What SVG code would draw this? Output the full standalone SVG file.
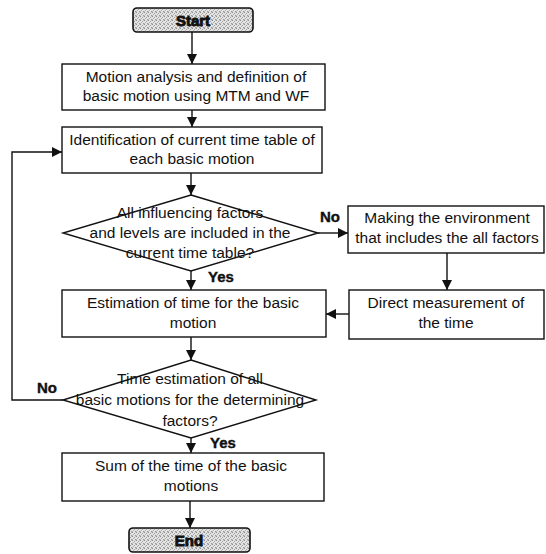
<svg xmlns="http://www.w3.org/2000/svg" width="546" height="554" viewBox="0 0 546 554">
  <defs>
    <!-- halftone-like fill for the terminal boxes -->
    <pattern id="dots" width="4" height="4" patternUnits="userSpaceOnUse">
      <rect width="4" height="4" fill="#e4e4e4"/>
      <rect x="0" y="0" width="1" height="1" fill="#8c8c8c"/>
      <rect x="2" y="1" width="1" height="1" fill="#a0a0a0"/>
      <rect x="1" y="2" width="1" height="1" fill="#b0b0b0"/>
      <rect x="3" y="3" width="1" height="1" fill="#9a9a9a"/>
      <rect x="3" y="0" width="1" height="1" fill="#c4c4c4"/>
      <rect x="0" y="3" width="1" height="1" fill="#bcbcbc"/>
    </pattern>
    <marker id="arrow" viewBox="0 0 10 10" refX="10" refY="5" markerWidth="10" markerHeight="10" markerUnits="userSpaceOnUse" orient="auto">
      <path d="M0,0 L10,5 L0,10 z" fill="#111"/>
    </marker>
  </defs>
  <style>
    .box { fill: #fff; stroke: #111; stroke-width: 1.4; }
    .term { fill: url(#dots); stroke: #111; stroke-width: 1.6; }
    .txt { font-family: "Liberation Sans", Arial, sans-serif; font-size: 15.5px; fill: #111; text-anchor: middle; }
    .bold { font-family: "Liberation Sans", Arial, sans-serif; font-size: 15px; font-weight: bold; fill: #111; stroke: #111; stroke-width: 0.4; }
    .termtxt { font-family: "Liberation Sans", Arial, sans-serif; font-size: 15px; font-weight: bold; fill: #111; text-anchor: middle; stroke: #111; stroke-width: 0.9; }
    .conn { fill: none; stroke: #111; stroke-width: 1.4; marker-end: url(#arrow); }
  </style>

  <rect width="546" height="554" fill="#fff"/>

  <g id="connectors">
    <line class="conn" x1="192" y1="32" x2="192" y2="64"/>
    <line class="conn" x1="192" y1="110" x2="192" y2="127"/>
    <line class="conn" x1="191" y1="173" x2="191" y2="195"/>
    <line class="conn" x1="318" y1="233" x2="348" y2="233"/>
    <line class="conn" x1="191" y1="271" x2="191" y2="290"/>
    <line class="conn" x1="447" y1="253" x2="447" y2="290"/>
    <line class="conn" x1="349" y1="314" x2="326" y2="314"/>
    <line class="conn" x1="191" y1="337" x2="191" y2="360"/>
    <polyline class="conn" points="63,400 12,400 12,152 62,152"/>
    <line class="conn" x1="191" y1="438" x2="191" y2="453"/>
    <line class="conn" x1="190" y1="501" x2="190" y2="528"/>
  </g>

  <g id="start">
    <rect class="term" x="133" y="8" width="120" height="24" rx="4"/>
    <text class="termtxt" x="193" y="25.5">Start</text>
  </g>

  <g id="motion-analysis">
    <rect class="box" x="62" y="64" width="263" height="46"/>
    <text class="txt" x="196" y="82">Motion analysis and definition of</text>
    <text class="txt" x="196" y="101">basic motion using MTM and WF</text>
  </g>

  <g id="identification">
    <rect class="box" x="62" y="127" width="260" height="46"/>
    <text class="txt" x="192" y="145">Identification of current time table of</text>
    <text class="txt" x="192" y="164">each basic motion</text>
  </g>

  <g id="factors-included">
    <polygon class="box" points="191,195 318,233 191,271 63,233"/>
    <text class="txt" x="190" y="218">All influencing factors</text>
    <text class="txt" x="190" y="238">and levels are included in the</text>
    <text class="txt" x="190" y="258">current time table?</text>
  </g>

  <g id="making-environment">
    <rect class="box" x="348" y="206" width="196" height="47"/>
    <text class="txt" x="447" y="223">Making the environment</text>
    <text class="txt" x="447" y="243">that includes the all factors</text>
  </g>

  <g id="estimation">
    <rect class="box" x="62" y="290" width="264" height="47"/>
    <text class="txt" x="193" y="308">Estimation of time for the basic</text>
    <text class="txt" x="193" y="328">motion</text>
  </g>

  <g id="direct-measurement">
    <rect class="box" x="349" y="290" width="195" height="49"/>
    <text class="txt" x="446" y="308">Direct measurement of</text>
    <text class="txt" x="446" y="328">the time</text>
  </g>

  <g id="all-estimated">
    <polygon class="box" points="191,360 316,400 191,438 63,400"/>
    <text class="txt" x="190" y="384">Time estimation of all</text>
    <text class="txt" x="190" y="405">basic motions for the determining</text>
    <text class="txt" x="190" y="426">factors?</text>
  </g>

  <g id="sum">
    <rect class="box" x="62" y="453" width="262" height="48"/>
    <text class="txt" x="191" y="471">Sum of the time of the basic</text>
    <text class="txt" x="191" y="491">motions</text>
  </g>

  <g id="end">
    <rect class="term" x="129" y="528" width="121" height="24" rx="4"/>
    <text class="termtxt" x="189" y="545.5">End</text>
  </g>

  <g id="labels">
    <text class="bold" x="320" y="222">No</text>
    <text class="bold" x="208" y="282">Yes</text>
    <text class="bold" x="37" y="393">No</text>
    <text class="bold" x="210" y="448">Yes</text>
  </g>
</svg>
